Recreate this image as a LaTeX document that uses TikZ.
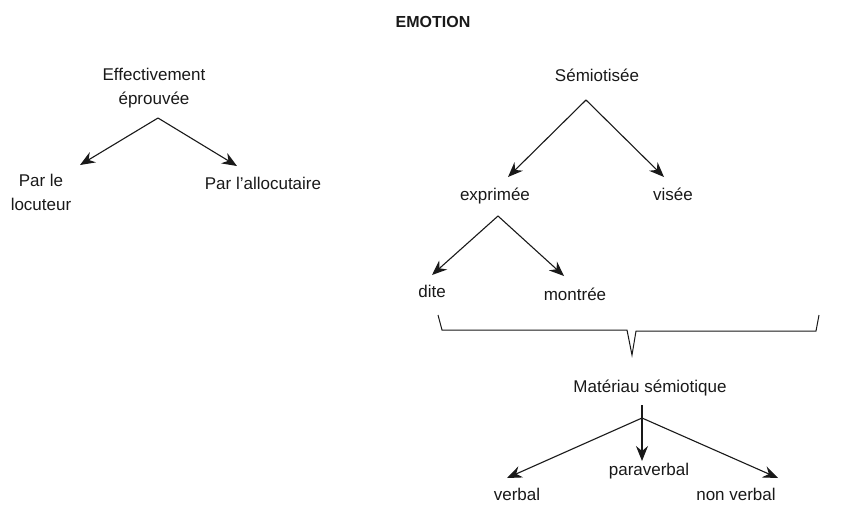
\documentclass[tikz,border=0pt]{standalone}
\usepackage{fontspec}
\setmainfont{Liberation Sans}
\usetikzlibrary{arrows.meta}
\begin{document}
\begin{tikzpicture}[x=1pt,y=-1pt,
  lbl/.style={anchor=base,inner sep=0pt,text=black!90,font=\fontsize{17}{23.5}\selectfont,align=center},
  ttl/.style={anchor=base,inner sep=0pt,text=black!90,font=\fontsize{16}{19}\selectfont\bfseries},
  arr/.style={draw=black!90,line width=1.1pt,-{Stealth[length=15pt,width=12pt,inset=5pt]}},
  ln/.style={draw=black!90,line width=1pt}]
\path[use as bounding box] (0,0) rectangle (848,504);
% title
\node[ttl] (emo) at (433,27) {EMOTION};
% left tree
\node[lbl] (eff) at (154,104) {Effectivement\\éprouvée};
\node[lbl] (parle) at (41,210) {Par le\\locuteur};
\node[lbl] (alloc) at (263,189) {Par l’allocutaire};
\coordinate (effs) at (158,118);
\coordinate (tparle) at (80,165);
\coordinate (talloc) at (237,166);
\draw[arr] (effs) -- (tparle);
\draw[arr] (effs) -- (talloc);
% right tree
\node[lbl] (semio) at (597,81) {Sémiotisée};
\node[lbl] (expr) at (495,200) {exprimée};
\node[lbl] (visee) at (673,200) {visée};
\coordinate (semios) at (586,100);
\coordinate (texpr) at (508,177);
\coordinate (tvisee) at (664,177);
\draw[arr] (semios) -- (texpr);
\draw[arr] (semios) -- (tvisee);
\node[lbl] (dite) at (432,297) {dite};
\node[lbl] (montree) at (575,300) {montrée};
\coordinate (exprs) at (498,216);
\coordinate (tdite) at (432,275);
\coordinate (tmontree) at (564,276);
\draw[arr] (exprs) -- (tdite);
\draw[arr] (exprs) -- (tmontree);
% brace
\draw[ln] (438,315) -- (442,330) -- (627,330) -- (632,355) -- (636,331) -- (816,331) -- (819,315);
% semiotic material
\node[lbl] (mat) at (650,392) {Matériau sémiotique};
\node[lbl] (para) at (649,475) {paraverbal};
\node[lbl] (verbal) at (517,500) {verbal};
\node[lbl] (nonv) at (736,500) {non verbal};
\coordinate (mattop) at (642,405);
\coordinate (mats) at (642,418);
\coordinate (tpara) at (642,461);
\coordinate (tverbal) at (507,478);
\coordinate (tnonv) at (778,478);
\draw[arr] (mattop) -- (tpara);
\draw[arr] (mats) -- (tverbal);
\draw[arr] (mats) -- (tnonv);
\end{tikzpicture}
\end{document}
